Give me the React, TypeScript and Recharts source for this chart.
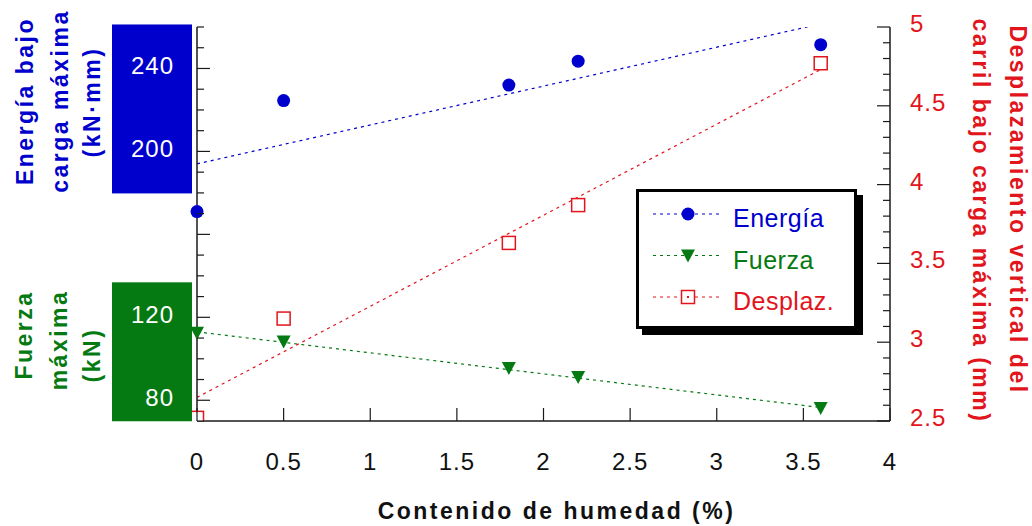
import React from 'react'
import { ComposedChart, Legend, Line, Scatter, XAxis, YAxis } from 'recharts'

// moisture content (%) of each specimen group
const moisture = [0, 0.5, 1.8, 2.2, 3.6]
// energy under max load (kN·mm), left axis
const energy = [171, 224.5, 232, 243.5, 251.5]
// max force (kN), left axis
const force = [112.5, 108.3, 95.6, 91.2, 76.3]
// vertical rail displacement under max load (mm), right axis
const displacement = [2.52, 3.15, 3.63, 3.87, 4.77]

// linear trend lines, end points
const fitX = [0, 3.6]
const energyFit = [194, 261.5]
const forceFit = [113, 76.5]
const displacementFit = [2.65, 4.73]

const xTicks = [0, 0.5, 1, 1.5, 2, 2.5, 3, 3.5, 4]
const energyTickLabels = [200, 240]
const forceTickLabels = [80, 120]
const rightTickLabels = [2.5, 3, 3.5, 4, 4.5, 5]

const BLUE = '#0000CD'
const GREEN = '#067A12'
const RED = '#E2141C'
const AXIS = '#1a1a1a'
const FONT = '"Liberation Sans", Arial, Helvetica, sans-serif'

const leftTicks: number[] = []
for (let v = 70; v <= 260; v += 10) leftTicks.push(v)
const rightTicks: number[] = []
for (let i = 0; i <= 25; i++) rightTicks.push(Number((2.5 + i * 0.1).toFixed(1)))

const pairs = (xs: number[], ys: number[]) => xs.map((x, i) => ({ x, y: ys[i] }))

const energyPts = pairs(moisture, energy)
const forcePts = pairs(moisture, force)
const dispPts = pairs(moisture, displacement)

// coloured blocks behind the left tick labels
const leftBoxes = [
  { value: 240, above: 44, below: 42, color: BLUE },
  { value: 200, above: 42, below: 42, color: BLUE },
  { value: 120, above: 35, below: 42, color: GREEN },
  { value: 80, above: 42, below: 21, color: GREEN },
]

const legendItems = [
  { name: 'Energía', color: BLUE, marker: 'circle' },
  { name: 'Fuerza', color: GREEN, marker: 'triangle' },
  { name: 'Desplaz.', color: RED, marker: 'square' },
]

const Marker = ({ kind, cx, cy, color, legend }: any) => {
  if (kind === 'circle') return <circle cx={cx} cy={cy} r={6.5} fill={color} />
  if (kind === 'triangle')
    return <polygon points={`${cx - 7},${cy - 6} ${cx + 7},${cy - 6} ${cx},${cy + 7}`} fill={color} />
  return (
    <g>
      <rect x={cx - 6.5} y={cy - 6.5} width={13} height={13} fill='#fff' stroke={color} strokeWidth={1.5} />
      {legend && <rect x={cx - 1} y={cy - 1} width={2} height={2} fill={color} />}
    </g>
  )
}

const BottomTick = (props: any) => {
  const { x, y, payload } = props
  return (
    <g>
      <line x1={x} x2={x} y1={y} y2={y - 13} stroke={AXIS} strokeWidth={1.2} />
      <text x={x} y={y + 49} textAnchor='middle' fontFamily={FONT} fontSize={24} fill='#111' letterSpacing={1}>
        {payload.value}
      </text>
    </g>
  )
}

const TopTick = (props: any) => {
  const { x, y } = props
  return <line x1={x} x2={x} y1={y} y2={y + 13} stroke={AXIS} strokeWidth={1.2} />
}

const LeftTick = (props: any) => {
  const { x, y, payload } = props
  const v = payload.value
  const len = v % 40 === 0 ? 13 : 7
  const box = leftBoxes.find((b) => b.value === v)
  const labelled = energyTickLabels.includes(v) || forceTickLabels.includes(v)
  return (
    <g>
      <line x1={x} x2={x + len} y1={y} y2={y} stroke={AXIS} strokeWidth={1.2} />
      {box && <rect x={x - 85} y={y - box.above} width={80} height={box.above + box.below} fill={box.color} />}
      {labelled && (
        <text x={x - 23} y={y + 6} textAnchor='end' fontFamily={FONT} fontSize={24} fill='#fff' letterSpacing={1}>
          {v}
        </text>
      )}
    </g>
  )
}

const RightTick = (props: any) => {
  const { x, y, payload } = props
  const v = payload.value
  const major = Math.abs(v * 2 - Math.round(v * 2)) < 1e-6
  return (
    <g>
      <line x1={x} x2={x - (major ? 13 : 7)} y1={y} y2={y} stroke={AXIS} strokeWidth={1.2} />
      {rightTickLabels.includes(v) && (
        <text x={x + 20} y={y + 5} fontFamily={FONT} fontSize={24} fill={RED} letterSpacing={1}>
          {v}
        </text>
      )}
    </g>
  )
}

const XTitle = (props: any) => {
  const { viewBox } = props
  return (
    <text
      x={viewBox.x + viewBox.width / 2 + 13}
      y={519}
      textAnchor='middle'
      fontFamily={FONT}
      fontSize={23}
      fontWeight='bold'
      fill='#111'
      letterSpacing={2.5}
    >
      Contenido de humedad (%)
    </text>
  )
}

const rotated = (x: number, y: number, angle: number, color: string, text: string, key: string) => (
  <text
    key={key}
    x={x}
    y={y}
    transform={`rotate(${angle} ${x} ${y})`}
    textAnchor='middle'
    fontFamily={FONT}
    fontSize={23}
    fontWeight='bold'
    fill={color}
    letterSpacing={2.5}
  >
    {text}
  </text>
)

const LeftTitle = () => (
  <g>
    {rotated(33, 101, -90, BLUE, 'Energía bajo', 'e1')}
    {rotated(68, 101, -90, BLUE, 'carga máxima', 'e2')}
    {rotated(100, 102, -90, BLUE, '(kN·mm)', 'e3')}
    {rotated(32, 335, -90, GREEN, 'Fuerza', 'f1')}
    {rotated(67, 340, -90, GREEN, 'máxima', 'f2')}
    {rotated(100, 355, -90, GREEN, '(kN)', 'f3')}
  </g>
)

const RightTitle = () => (
  <g>
    {rotated(1010, 210, 90, RED, 'Desplazamiento vertical del', 'd1')}
    {rotated(973, 221, 90, RED, 'carril bajo carga máxima (mm)', 'd2')}
  </g>
)

const LegendBox = () => (
  <svg width={232} height={152}>
    <rect x={6} y={6} width={221} height={140} fill='#000' />
    <rect x={1.5} y={1.5} width={218} height={137} fill='#fff' stroke='#000' strokeWidth={3} />
    {legendItems.map((item, i) => {
      const cy = 25 + i * 41.5
      return (
        <g key={item.name}>
          <line x1={17} x2={86} y1={cy} y2={cy} stroke={item.color} strokeWidth={1.2} strokeDasharray='3 4' />
          <Marker kind={item.marker} cx={52} cy={cy} color={item.color} legend />
          <text x={97} y={cy + 13} fontFamily={FONT} fontSize={25} fill={item.color} letterSpacing={0.5}>
            {item.name}
          </text>
        </g>
      )
    })}
  </svg>
)

const App: React.FC = () => {
  return (
    <div style={{ position: 'absolute', left: 0, top: 0, background: '#fff' }}>
      <ComposedChart width={1032} height={526} margin={{ top: 27, right: 52, bottom: 45, left: 107 }}>
        <XAxis
          xAxisId='x'
          dataKey='x'
          type='number'
          domain={[0, 4]}
          ticks={xTicks}
          interval={0}
          height={60}
          tickSize={0}
          tickMargin={0}
          tickLine={false}
          axisLine={{ stroke: AXIS, strokeWidth: 1.5 }}
          tick={BottomTick}
          label={XTitle}
        />
        <XAxis
          xAxisId='top'
          orientation='top'
          type='number'
          domain={[0, 4]}
          ticks={xTicks}
          interval={0}
          height={0}
          tickSize={0}
          tickMargin={0}
          tickLine={false}
          axisLine={{ stroke: AXIS, strokeWidth: 1.5 }}
          tick={TopTick}
        />
        <YAxis
          yAxisId='left'
          type='number'
          domain={[70, 260]}
          allowDataOverflow
          ticks={leftTicks}
          interval={0}
          width={90}
          tickSize={0}
          tickMargin={0}
          tickLine={false}
          axisLine={{ stroke: AXIS, strokeWidth: 1.5 }}
          tick={LeftTick}
          label={LeftTitle}
        />
        <YAxis
          yAxisId='right'
          orientation='right'
          type='number'
          domain={[2.5, 5]}
          allowDataOverflow
          ticks={rightTicks}
          interval={0}
          width={90}
          tickSize={0}
          tickMargin={0}
          tickLine={false}
          axisLine={{ stroke: AXIS, strokeWidth: 1.5 }}
          tick={RightTick}
          label={RightTitle}
        />
        <Line
          xAxisId='x'
          yAxisId='left'
          data={pairs(fitX, energyFit)}
          dataKey='y'
          type='linear'
          stroke={BLUE}
          strokeWidth={1.2}
          strokeDasharray='3 4'
          dot={false}
          isAnimationActive={false}
        />
        <Line
          xAxisId='x'
          yAxisId='left'
          data={pairs(fitX, forceFit)}
          dataKey='y'
          type='linear'
          stroke={GREEN}
          strokeWidth={1.2}
          strokeDasharray='3 4'
          dot={false}
          isAnimationActive={false}
        />
        <Line
          xAxisId='x'
          yAxisId='right'
          data={pairs(fitX, displacementFit)}
          dataKey='y'
          type='linear'
          stroke={RED}
          strokeWidth={1.2}
          strokeDasharray='3 4'
          dot={false}
          isAnimationActive={false}
        />
        <Scatter
          xAxisId='x'
          yAxisId='left'
          data={energyPts}
          dataKey='y'
          isAnimationActive={false}
          shape={(p: any) => <Marker kind='circle' cx={p.cx} cy={p.cy} color={BLUE} />}
        />
        <Scatter
          xAxisId='x'
          yAxisId='left'
          data={forcePts}
          dataKey='y'
          isAnimationActive={false}
          shape={(p: any) => <Marker kind='triangle' cx={p.cx} cy={p.cy} color={GREEN} />}
        />
        <Scatter
          xAxisId='x'
          yAxisId='right'
          data={dispPts}
          dataKey='y'
          isAnimationActive={false}
          shape={(p: any) => <Marker kind='square' cx={p.cx} cy={p.cy} color={RED} />}
        />
        <Legend
          layout='horizontal'
          verticalAlign='middle'
          align='center'
          content={() => <LegendBox />}
          wrapperStyle={{ position: 'absolute', left: 636, top: 189, width: 232, height: 152 }}
        />
      </ComposedChart>
    </div>
  )
}

export default App
